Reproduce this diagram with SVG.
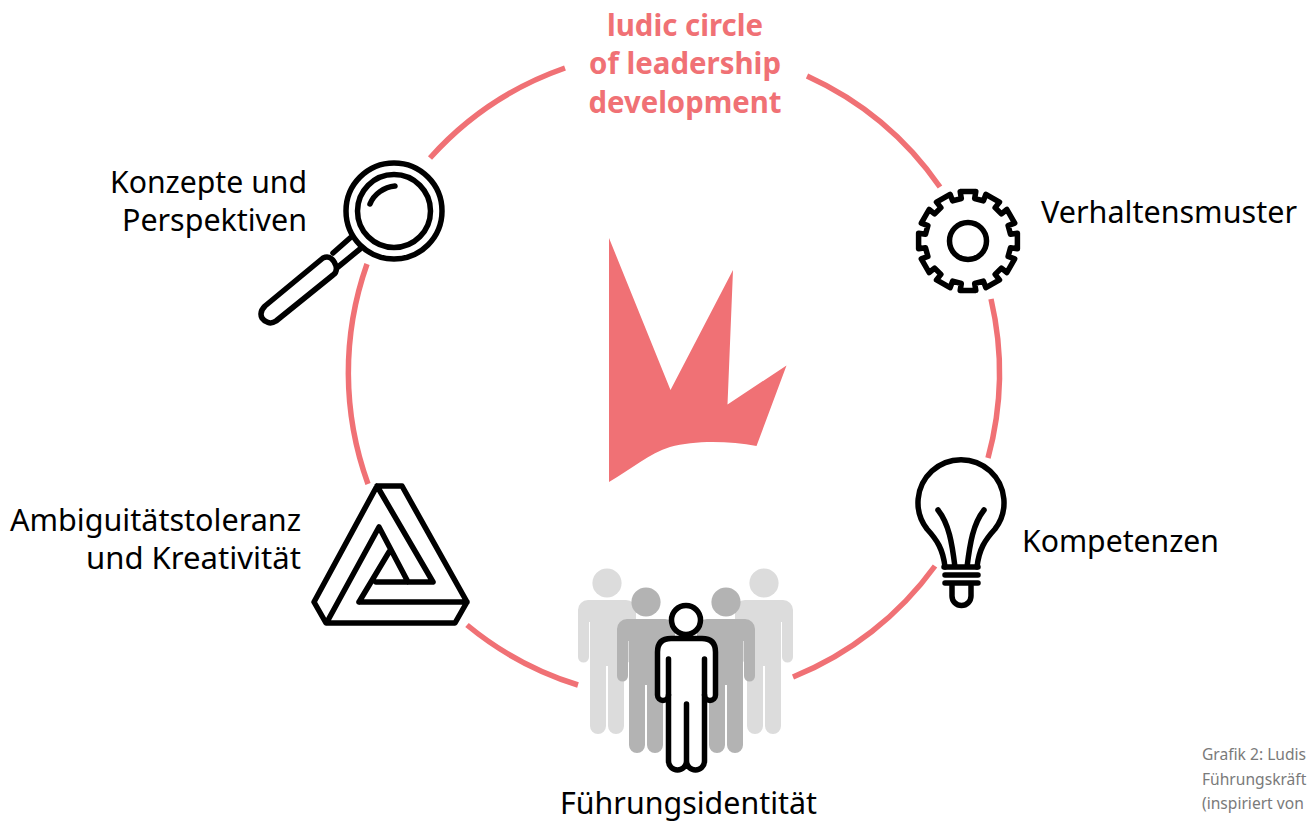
<svg xmlns="http://www.w3.org/2000/svg" width="1307" height="821" viewBox="0 0 1307 821">
<style>
.arc{fill:none;stroke:#f07175;stroke-width:5.5}
.ic{fill:none;stroke:#000;stroke-width:5.5;stroke-linecap:round;stroke-linejoin:round}
.lb{font-family:"Noto Sans","Open Sans",sans-serif;font-size:31px;fill:#000}
.tt{font-family:"Noto Sans","Open Sans",sans-serif;font-size:31px;font-weight:700;fill:#f07175;text-anchor:middle}
.cp{font-family:"Noto Sans","Open Sans",sans-serif;font-size:15.6px;fill:#7a7a7a}
</style>
<defs>
<path id="pb" d="M-19,0H19A10,10 0 0 1 29,10V57A5.5,5.5 0 0 1 18,57V22H17V126A8,8 0 0 1 1,126V66H-1V126A8,8 0 0 1 -17,126V22H-18V57A5.5,5.5 0 0 1 -29,57V10A10,10 0 0 1 -19,0Z"/>
</defs>
<rect width="1307" height="821" fill="#fff"/>
<g id="connectors">
<path class="arc" d="M430,158A325.5,325.5 0 0 1 565,68"/>
<path class="arc" d="M807,76A325.5,325.5 0 0 1 940,187"/>
<path class="arc" d="M991,299A325.5,325.5 0 0 1 988,458"/>
<path class="arc" d="M935,566A325.5,325.5 0 0 1 793,677"/>
<path class="arc" d="M578,685A325.5,325.5 0 0 1 467,625"/>
<path class="arc" d="M368,484A325.5,325.5 0 0 1 367,264"/>
</g>
<g id="title">
<text class="tt" x="685" y="35.5" textLength="156" lengthAdjust="spacingAndGlyphs">ludic circle</text>
<text class="tt" x="685" y="74" textLength="192" lengthAdjust="spacingAndGlyphs">of leadership</text>
<text class="tt" x="685" y="113" textLength="193" lengthAdjust="spacingAndGlyphs">development</text>
</g>
<path id="crown" fill="#f07175" d="M609,238L670.5,390L733,270L727.5,404.5L786.5,365.5L756.5,446C730,441 695,440 670,447C650,453 630,470 609,482Z"/>
<g id="konzepte">
<circle class="ic" cx="394" cy="211" r="48"/>
<circle class="ic" cx="394" cy="211" r="36.5"/>
<path class="ic" d="M370,204C374,194 384,187 395,186"/>
<path class="ic" d="M350,238L333,253M360,249L338,267"/>
<path class="ic" d="M323,258C330,255 334,260 336,266C337,270 336,273 333,275L276,321C270,325 265,322 262,318C260,314 261,310 265,306Z"/>
<text class="lb" x="307" y="193" text-anchor="end" textLength="197" lengthAdjust="spacingAndGlyphs">Konzepte und</text>
<text class="lb" x="307" y="231" text-anchor="end" textLength="185" lengthAdjust="spacingAndGlyphs">Perspektiven</text>
</g>
<g id="verhalten">
<polygon class="ic" stroke-linejoin="miter" transform="translate(968,241)" points="-7.8,-49.4 7.8,-49.4 6.7,-42.5 15.4,-40.1 17.9,-46.7 31.5,-38.9 27.1,-33.4 33.4,-27.1 38.9,-31.5 46.7,-17.9 40.1,-15.4 42.5,-6.7 49.4,-7.8 49.4,7.8 42.5,6.7 40.1,15.4 46.7,17.9 38.9,31.5 33.4,27.1 27.1,33.4 31.5,38.9 17.9,46.7 15.4,40.1 6.7,42.5 7.8,49.4 -7.8,49.4 -6.7,42.5 -15.4,40.1 -17.9,46.7 -31.5,38.9 -27.1,33.4 -33.4,27.1 -38.9,31.5 -46.7,17.9 -40.1,15.4 -42.5,6.7 -49.4,7.8 -49.4,-7.8 -42.5,-6.7 -40.1,-15.4 -46.7,-17.9 -38.9,-31.5 -33.4,-27.1 -27.1,-33.4 -31.5,-38.9 -17.9,-46.7 -15.4,-40.1 -6.7,-42.5"/>
<circle class="ic" cx="968" cy="241" r="18.5"/>
<text class="lb" x="1041" y="223" textLength="256" lengthAdjust="spacingAndGlyphs">Verhaltensmuster</text>
</g>
<g id="kompetenzen">
<path class="ic" d="M945,567C943,549 937,540 927,529A43,43 0 1 1 995,529C985,540 979,549 977,567"/>
<path class="ic" d="M938,510C949,524 952,543 955,567M984,510C973,524 970,543 967,567M944,567H978M945,575H978M945,583H978"/>
<path class="ic" d="M952,586V596A9.5,9.5 0 0 0 971,596V586"/>
<text class="lb" x="1022" y="552" textLength="197" lengthAdjust="spacingAndGlyphs">Kompetenzen</text>
</g>
<g id="ambiguitaet">
<path class="ic" d="M377,486H402L467,602L455,623H326L314,602L377,486L433,582H376M327,622L379,527L408,582M359,602L389,552M359,602H467"/>
<text class="lb" x="301" y="531" text-anchor="end" textLength="291" lengthAdjust="spacingAndGlyphs">Ambiguitätstoleranz</text>
<text class="lb" x="301" y="569" text-anchor="end" textLength="215" lengthAdjust="spacingAndGlyphs">und Kreativität</text>
</g>
<g id="fuehrung">
<g fill="#dcdcdc">
<circle cx="607" cy="583" r="14.6"/><use href="#pb" x="607" y="600"/>
<circle cx="764" cy="583" r="14.6"/><use href="#pb" x="764" y="600"/>
</g>
<g fill="#b3b3b3">
<circle cx="646" cy="602" r="14.6"/><use href="#pb" x="646" y="619"/>
<circle cx="726" cy="602" r="14.6"/><use href="#pb" x="726" y="619"/>
</g>
<path d="M668.5,695V761A9,9 0 0 0 686.5,761A9,9 0 0 0 704.5,761V695A5.5,5.5 0 0 0 715.5,695V652Q715.5,638.5 702,638.5H671Q657.5,638.5 657.5,652V695A5.5,5.5 0 0 0 668.5,695Z" fill="#fff"/>
<path class="ic" d="M668.5,659V761A9,9 0 0 0 686.5,761A9,9 0 0 0 704.5,761V659M686.5,704V761"/>
<path class="ic" d="M668.5,695A5.5,5.5 0 0 1 657.5,695V652Q657.5,638.5 671,638.5H702Q715.5,638.5 715.5,652V695A5.5,5.5 0 0 1 704.5,695"/>
<circle class="ic" style="fill:#fff" cx="686" cy="620" r="14.5"/>
<text class="lb" x="560" y="814" style="font-size:30px" textLength="257" lengthAdjust="spacingAndGlyphs">Führungsidentität</text>
</g>
<g id="caption">
<text class="cp" x="1202" y="760">Grafik 2: Ludis</text>
<text class="cp" x="1202" y="785">Führungskräft</text>
<text class="cp" x="1202" y="809">(inspiriert von</text>
</g>
</svg>
